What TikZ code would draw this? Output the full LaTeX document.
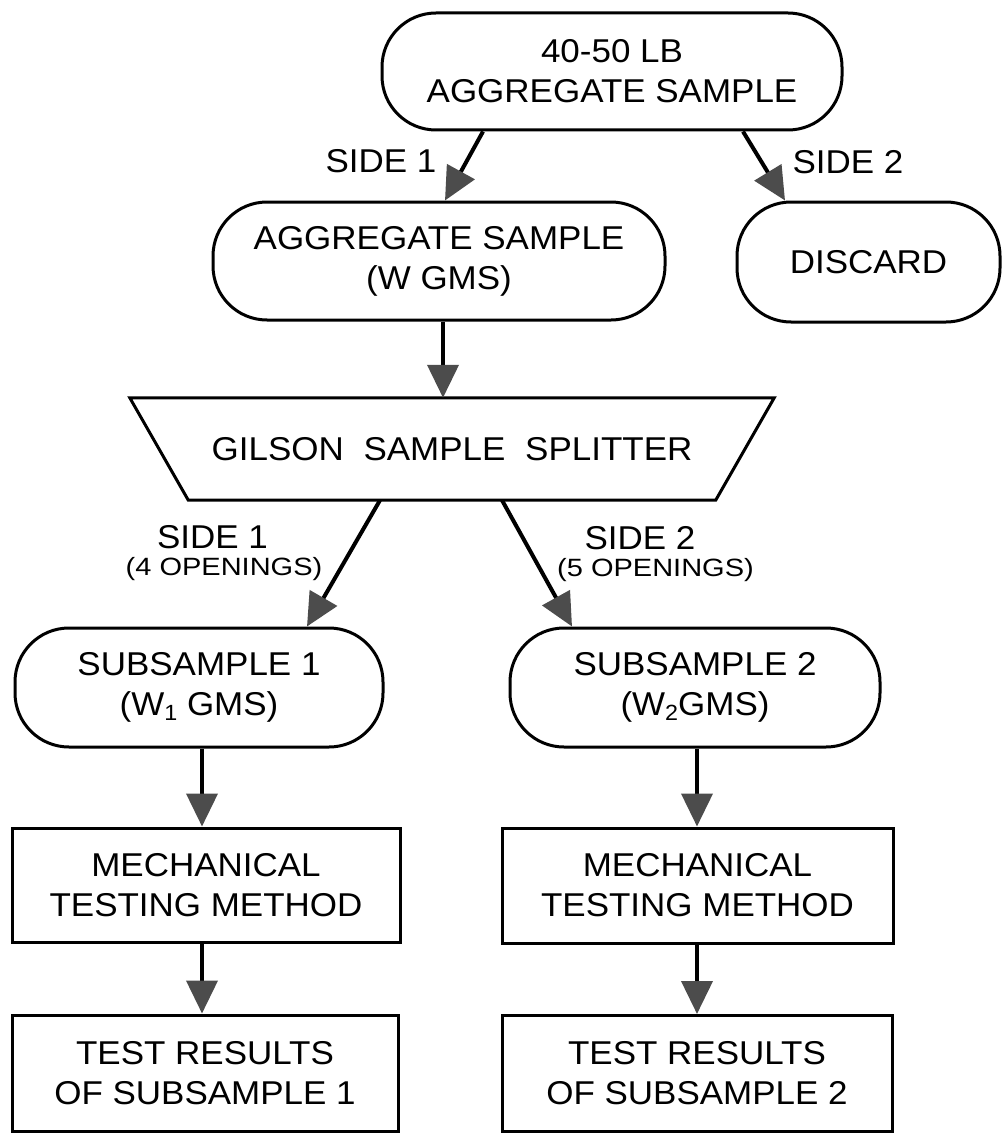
\documentclass[tikz,border=0pt]{standalone}
\usepackage{fontspec}
\setmainfont{Liberation Sans}[FakeStretch=1.06]
\newfontfamily\smallfnt{Liberation Sans}[FakeStretch=1.16]
\usetikzlibrary{arrows.meta,calc}
\newcommand\mysub[1]{\raisebox{-0.3ex}{\fontsize{22}{22}\selectfont #1}}
\tikzset{
  txt/.style={font=\fontsize{33}{40}\selectfont, inner sep=0pt, align=center},
  rbox/.style={txt, draw, line width=3pt, rounded corners=54pt, minimum height=118pt},
  sqbox/.style={txt, draw, line width=3pt},
  slbl/.style={font=\smallfnt\fontsize{25}{27}\selectfont, inner sep=0pt},
  arr/.style={line width=4pt, -{Triangle[length=33pt,width=31pt,color=black!70]}},
}
\begin{document}
\begin{tikzpicture}[x=1pt,y=-1pt]
\useasboundingbox (0,0) rectangle (1003,1134);
% nodes
\node[rbox, minimum width=460pt, minimum height=117pt] (top) at (612,71.5) {40-50 LB\\AGGREGATE SAMPLE};
\node[rbox, minimum width=452pt] (agg) at (439,261) {AGGREGATE SAMPLE\\(W GMS)};
\node[rbox, minimum width=263pt, minimum height=120pt] (disc) at (868.5,262) {DISCARD};
\node[txt, minimum width=527pt, minimum height=102pt] (split) at (452,449) {GILSON\hspace{10pt} SAMPLE\hspace{10pt} SPLITTER};
\draw[line width=3pt] ($(split.north west)+(-58.5,0)$) -- ($(split.north east)+(58.5,0)$) -- (split.south east) -- (split.south west) -- cycle;
\node[rbox, minimum width=368pt, minimum height=119pt] (sub1) at (199,687.5) {SUBSAMPLE 1\\(W\mysub{1} GMS)};
\node[rbox, minimum width=370pt, minimum height=119pt] (sub2) at (695,687.5) {SUBSAMPLE 2\\(W\mysub{2}GMS)};
\node[sqbox, minimum width=388pt, minimum height=114pt] (mech1) at (206,885) {MECHANICAL\\TESTING METHOD};
\node[sqbox, minimum width=391pt, minimum height=115pt] (mech2) at (697.5,885.5) {MECHANICAL\\TESTING METHOD};
\node[sqbox, minimum width=386pt, minimum height=116pt] (res1) at (205,1073) {TEST RESULTS\\OF SUBSAMPLE 1};
\node[sqbox, minimum width=390pt, minimum height=116pt] (res2) at (697,1073.5) {TEST RESULTS\\OF SUBSAMPLE 2};
% labels
\node[txt] (s1a) at (381,161.5) {SIDE 1};
\node[txt] (s2a) at (848,162.5) {SIDE 2};
\node[txt] (s1b) at (212.5,537.5) {SIDE 1};
\node[slbl] (o1) at (224,569.5) {(4 OPENINGS)};
\node[txt] (s2b) at (640,538.5) {SIDE 2};
\node[slbl] (o2) at (655.5,570.5) {(5 OPENINGS)};
% connectors
\draw[arr] ([xshift=-129pt]top.south) -- ([xshift=6pt]agg.north);
\draw[arr] ([xshift=131pt]top.south) -- ([xshift=-83.5pt]disc.north);
\draw[arr] ([xshift=4pt]agg.south) -- ([xshift=-9pt]split.north);
\draw[arr] ([xshift=-72pt]split.south) -- ([xshift=108pt]sub1.north);
\draw[arr] ([xshift=50pt]split.south) -- ([xshift=-123pt]sub2.north);
\draw[arr] ([xshift=3pt]sub1.south) -- ([xshift=-4pt]mech1.north);
\draw[arr] ([xshift=-4pt]mech1.south) -- ([xshift=-3pt]res1.north);
\draw[arr] ([xshift=2pt]sub2.south) -- ([xshift=-0.5pt]mech2.north);
\draw[arr] ([xshift=-0.5pt]mech2.south) -- (res2.north);
\end{tikzpicture}
\end{document}
